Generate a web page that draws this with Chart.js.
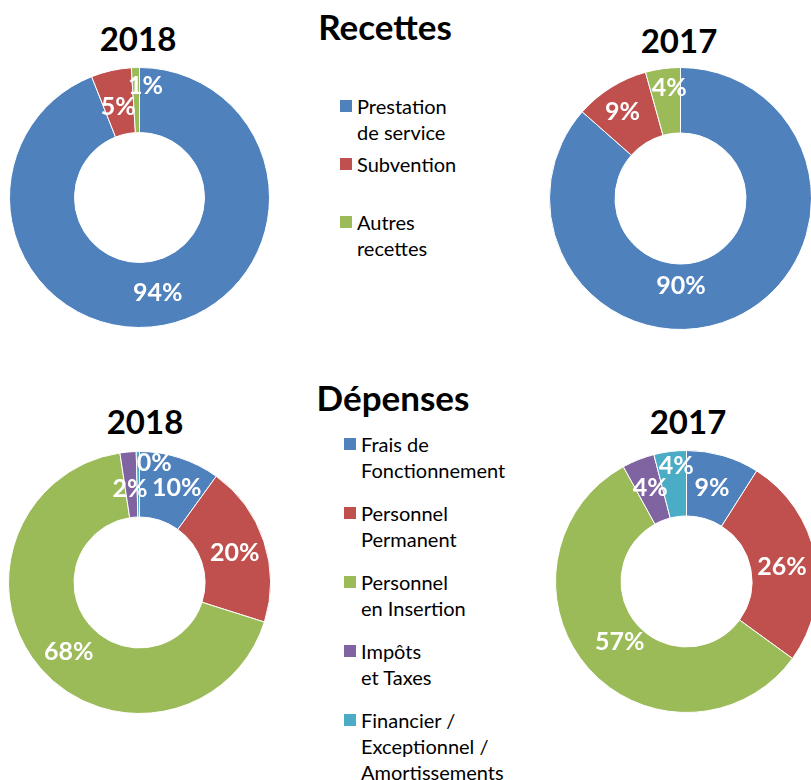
<!DOCTYPE html>
<html>
<head>
<meta charset="utf-8">
<script src="https://cdn.jsdelivr.net/npm/chart.js"></script>
<style>
  html, body { margin: 0; padding: 0; background: #fff; overflow: hidden; }
  body { width: 811px; height: 780px; position: relative; font-family: Lato, "Open Sans", sans-serif; }
  .title { position: absolute; width: 300px; text-align: center; font-weight: bold; color: #000; line-height: 1; }
  .year { font-size: 33px; }
  .head { font-size: 35px; }
  canvas { position: absolute; }
  .legend { position: absolute; font-size: 20px; line-height: 26px; color: #000; }
  .legend .item { position: absolute; white-space: nowrap; }
  .legend .box { position: absolute; width: 12px; height: 12px; }
  .legend .txt { position: absolute; }
</style>
</head>
<body>
<div class="title head" style="left:235px; top:9px;">Recettes</div>
<div class="title year" style="left:-12px; top:22px;">2018</div>
<div class="title year" style="left:529px; top:24px;">2017</div>
<div class="title head" style="left:243px; top:380px;">Dépenses</div>
<div class="title year" style="left:-5px; top:405px;">2018</div>
<div class="title year" style="left:538px; top:405px;">2017</div>

<canvas id="rec2018" width="261" height="261" style="left:9px; top:67px;"></canvas>
<canvas id="rec2017" width="263" height="263" style="left:549px; top:67px;"></canvas>
<canvas id="dep2018" width="263" height="263" style="left:8px; top:451px;"></canvas>
<canvas id="dep2017" width="263" height="263" style="left:555px; top:450px;"></canvas>

<div class="legend" id="legRec" style="left:340px; top:93px;"></div>
<div class="legend" id="legDep" style="left:344px; top:431px;"></div>

<script>
// Recettes
const recCategories = [["Prestation", "de service"], ["Subvention"], ["Autres", "recettes"]];
const rec2018Values = [94, 5, 1];
const rec2018Labels = ["94%", "5%", "1%"];
const rec2017Values = [86.5, 9.2, 4.3];
const rec2017Labels = ["90%", "9%", "4%"];

// Dépenses
const depCategories = [["Frais de", "Fonctionnement"], ["Personnel", "Permanent"], ["Personnel", "en Insertion"], ["Impôts", "et Taxes"], ["Financier /", "Exceptionnel /", "Amortissements"]];
const dep2018Values = [10, 20, 68, 2, 0.4];
const dep2018Labels = ["10%", "20%", "68%", "2%", "0%"];
const dep2017Values = [9, 26, 57, 4, 4];
const dep2017Labels = ["9%", "26%", "57%", "4%", "4%"];

const colors = ["#4F81BD", "#C0504D", "#9BBB59", "#8064A2", "#4BACC6"];

// texte des étiquettes au centre de chaque secteur
const sliceLabels = {
  id: "sliceLabels",
  afterDatasetsDraw(chart, args, opts) {
    const ctx = chart.ctx;
    const arcs = chart.getDatasetMeta(0).data;
    ctx.save();
    ctx.fillStyle = "#fff";
    ctx.font = "bold 25px Lato, 'Open Sans', sans-serif";
    ctx.textAlign = "center";
    ctx.textBaseline = "middle";
    arcs.forEach((arc, i) => {
      const p = arc.getCenterPoint();
      const off = (opts.offsets && opts.offsets[i]) || [0, 0];
      ctx.fillText(opts.texts[i], p.x + off[0], p.y + off[1]);
    });
    ctx.restore();
  }
};

function donut(id, categories, values, texts, offsets) {
  new Chart(document.getElementById(id), {
    type: "doughnut",
    data: {
      labels: categories,
      datasets: [{
        data: values,
        backgroundColor: colors.slice(0, values.length),
        borderColor: "#fff",
        borderWidth: 1
      }]
    },
    options: {
      responsive: false,
      animation: false,
      cutout: "50%",
      layout: { padding: 0 },
      plugins: {
        legend: { display: false },
        tooltip: { enabled: false },
        sliceLabels: { texts, offsets }
      }
    },
    plugins: [sliceLabels]
  });
}

donut("rec2018", recCategories, rec2018Values, rec2018Labels, [[0, 0], [0, 5], [9, -14]]);
donut("rec2017", recCategories, rec2017Values, rec2017Labels, [[-40, -2], [-6, -3], [2, -13]]);
donut("dep2018", depCategories, dep2018Values, dep2018Labels, [[7, -1], [2, 1], [4, 6], [-1, 4], [16, -21]]);
donut("dep2017", depCategories, dep2017Values, dep2017Labels, [[-2, 1], [-1, 4], [7, -5], [0, -2], [2, -18]]);

function legend(id, categories, itemGap) {
  const el = document.getElementById(id);
  categories.forEach((lines, i) => {
    const item = document.createElement("div");
    item.className = "item";
    item.style.top = (i * itemGap) + "px";
    item.innerHTML = `<div class="box" style="background:${colors[i]}; top:7px; left:0;"></div>` +
      `<div class="txt" style="left:17px; top:0;">${lines.join("<br>")}</div>`;
    el.appendChild(item);
  });
}

legend("legRec", recCategories, 58);
legend("legDep", depCategories, 69);
</script>
</body>
</html>
